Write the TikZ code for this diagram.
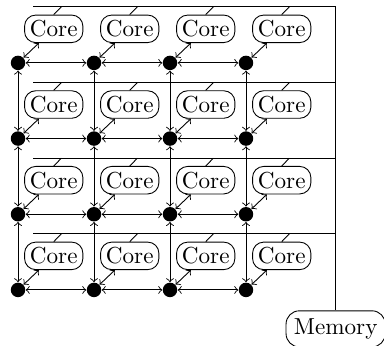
\documentclass[tikz,border=0pt]{standalone}
\usepackage{tikz}

\begin{document}
\begin{tikzpicture}[
  x=1.2cm, y=1.195cm,
  font=\fontsize{10.4pt}{12pt}\selectfont,
  router/.style={circle,fill=black,minimum size=6.5pt,inner sep=0pt},
  core/.style={draw,rounded corners=5pt,inner sep=2.4pt},
  memory/.style={draw,rounded corners=6pt,inner sep=3.5pt}]
\useasboundingbox (-0.237,-0.74) rectangle (4.816,3.831);

% ============ Routers and cores ============
\foreach \i in {0,...,3}
  \foreach \j in {0,...,3} {
    \node[router] (d\i\j) at (\i,\j) {};
    \node[core] (c\i\j) at (\i+0.47,\j+0.45) {Core};
  }

% ============ Buses and memory ============
\foreach \j in {0,...,3} {
  \coordinate (bl\j) at (0.2,\j+0.74);
  \coordinate (br\j) at (4.18,\j+0.74);
  \draw (bl\j) -- (br\j);
}
\node[memory,anchor=north] (mem) at (4.18,-0.27) {Memory};
\draw (br3) -- (mem.north);

% ============ Core taps and core-router links ============
\foreach \i in {0,...,3}
  \foreach \j in {0,...,3} {
    \coordinate (t\i\j) at (\i+0.57,\j+0.74);
    \draw (c\i\j.north) -- (t\i\j);
    \draw[<->] (c\i\j) -- (d\i\j);
  }

% ============ Mesh links ============
\foreach \i [evaluate=\i as \k using int(\i+1)] in {0,1,2}
  \foreach \j in {0,...,3} {
    \draw[<->] (d\i\j) -- (d\k\j);
    \draw[<->] (d\j\i) -- (d\j\k);
  }

\end{tikzpicture}
\end{document}
